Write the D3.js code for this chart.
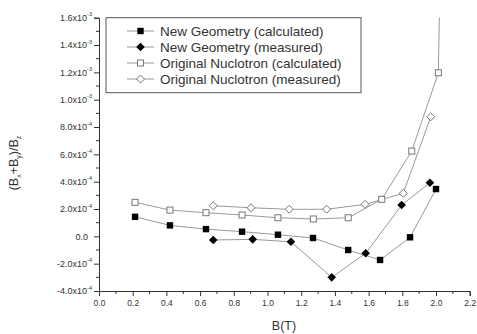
<!DOCTYPE html>
<html><head><meta charset="utf-8">
<script src="https://cdn.jsdelivr.net/npm/d3@7"></script>
<style>body{margin:0;background:#fff}svg{display:block}text{font-family:"Liberation Sans",Arial,sans-serif}</style>
</head><body>
<script>
const seriesNames = ["New Geometry (calculated)","New Geometry (measured)","Original Nuclotron (calculated)","Original Nuclotron (measured)"];
const newCalcX = [0.214,0.421,0.635,0.849,1.062,1.270,1.479,1.668,1.846,2.0];
const newCalcY = [1.43e-4,0.80e-4,0.53e-4,0.34e-4,0.12e-4,-0.12e-4,-1.00e-4,-1.73e-4,-0.07e-4,3.46e-4];
const newMeasX = [0.678,0.912,1.139,1.381,1.583,1.796,1.964];
const newMeasY = [-0.27e-4,-0.22e-4,-0.40e-4,-3.00e-4,-1.24e-4,2.29e-4,3.92e-4];
const origCalcX = [0.214,0.421,0.635,0.849,1.062,1.272,1.479,1.678,1.856,2.014,2.022];
const origCalcY = [2.49e-4,1.92e-4,1.73e-4,1.56e-4,1.36e-4,1.27e-4,1.36e-4,2.71e-4,6.24e-4,1.197e-3,1.75e-3];
const origMeasX = [0.678,0.902,1.129,1.351,1.579,1.806,1.969];
const origMeasY = [2.24e-4,2.09e-4,1.98e-4,1.98e-4,2.34e-4,3.15e-4,8.75e-4];
const xTicks = [0,0.2,0.4,0.6,0.8,1.0,1.2,1.4,1.6,1.8,2.0,2.2];
const xTickLabels = ["0.0","0.2","0.4","0.6","0.8","1.0","1.2","1.4","1.6","1.8","2.0","2.2"];
const yTicks = [1.6e-3,1.4e-3,1.2e-3,1.0e-3,8e-4,6e-4,4e-4,2e-4,0,-2e-4,-4e-4];
const yTickMant = ["1.6x10","1.4x10","1.2x10","1.0x10","8.0x10","6.0x10","4.0x10","2.0x10","0.0","-2.0x10","-4.0x10"];
const yTickExp = ["-3","-3","-3","-3","-4","-4","-4","-4","","-4","-4"];
const markers = ["fsquare","fdiamond","osquare","odiamond"];

const W=477,H=334;
const svg=d3.select("body").append("svg").attr("width",W).attr("height",H);
const x=d3.scaleLinear().domain([0,2.2]).range([99,469.7]);
const y=d3.scaleLinear().domain([-4e-4,1.6e-3]).range([291,17.7]);

svg.append("clipPath").attr("id","clip").append("rect").attr("x",99).attr("y",17.7).attr("width",372).attr("height",274);

const xAxis=d3.axisBottom(x).tickValues(xTicks).tickSize(5).tickFormat((d,i)=>xTickLabels[i]);
const gx=svg.append("g").attr("transform","translate(0,291)").call(xAxis);
gx.selectAll("text").attr("font-size",8.5).attr("fill","#333").attr("dy","0.85em");
const minorX=d3.range(0.1,2.2,0.2);
gx.selectAll(".mx").data(minorX).enter().append("line").attr("x1",d=>x(d)).attr("x2",d=>x(d)).attr("y1",0).attr("y2",3).attr("stroke","#333");

const yAxis=d3.axisLeft(y).tickValues(yTicks).tickSize(5).tickFormat("");
const gy=svg.append("g").attr("transform","translate(99,0)").call(yAxis);
const minorY=d3.range(-3e-4,1.6e-3,2e-4);
gy.selectAll(".my").data(minorY).enter().append("line").attr("y1",d=>y(d)).attr("y2",d=>y(d)).attr("x1",0).attr("x2",-3).attr("stroke","#333");
[gx,gy].forEach(g=>{g.select(".domain").attr("stroke","#333");g.selectAll(".tick line").attr("stroke","#333");});

const yl=svg.append("g");
yTicks.forEach((v,i)=>{
  const t=yl.append("text").attr("x",yTickExp[i]?92:88).attr("y",y(v)+3.2).attr("text-anchor","end").attr("font-size",9).attr("fill","#333");
  t.append("tspan").text(yTickMant[i]);
  if(yTickExp[i]) t.append("tspan").attr("font-size",5.5).attr("dy",-4.5).text(yTickExp[i]);
});

svg.append("text").attr("x",284).attr("y",330).attr("text-anchor","middle").attr("font-size",12.5).attr("fill","#333").text("B(T)");
const yt=svg.append("text").attr("transform","translate(18,163) rotate(-90)").attr("text-anchor","middle").attr("font-size",12.5).attr("fill","#333");
yt.append("tspan").text("(B");
yt.append("tspan").attr("font-size",7).attr("dy",3).text("x");
yt.append("tspan").attr("dy",-3).text("+B");
yt.append("tspan").attr("font-size",7).attr("dy",3).text("y");
yt.append("tspan").attr("dy",-3).text(")/B");
yt.append("tspan").attr("font-size",7).attr("dy",3).text("z");

function drawMarker(g,type,cx,cy){
  if(type==="fsquare") g.append("rect").attr("x",cx-3.2).attr("y",cy-3.2).attr("width",6.4).attr("height",6.4).attr("fill","#000");
  else if(type==="osquare") g.append("rect").attr("x",cx-3).attr("y",cy-3).attr("width",6).attr("height",6).attr("fill","#fff").attr("stroke","#777").attr("stroke-width",1);
  else if(type==="fdiamond") g.append("path").attr("d",`M${cx},${cy-4.3}L${cx+4.3},${cy}L${cx},${cy+4.3}L${cx-4.3},${cy}Z`).attr("fill","#000");
  else g.append("path").attr("d",`M${cx},${cy-4}L${cx+4},${cy}L${cx},${cy+4}L${cx-4},${cy}Z`).attr("fill","#fff").attr("stroke","#777").attr("stroke-width",1);
}

const plot=svg.append("g").attr("clip-path","url(#clip)");
const allSeries=[[origMeasX,origMeasY],[origCalcX,origCalcY],[newMeasX,newMeasY],[newCalcX,newCalcY]];
const order=[3,2,1,0];
const line=d3.line().x(d=>x(d[0])).y(d=>y(d[1]));
allSeries.forEach((s,k)=>{
  const pts=s[0].map((v,i)=>[v,s[1][i]]);
  plot.append("path").attr("d",line(pts)).attr("fill","none").attr("stroke","#999").attr("stroke-width",1);
});
allSeries.forEach((s,k)=>{
  const g=plot.append("g");
  s[0].forEach((v,i)=>drawMarker(g,markers[order[k]],x(v),y(s[1][i])));
});

const lg=svg.append("g");
lg.append("rect").attr("x",106).attr("y",17.7).attr("width",255).attr("height",75).attr("fill","#fff").attr("stroke","#555").attr("stroke-width",1);
const ly=[31,47,63,79];
seriesNames.forEach((n,i)=>{
  lg.append("line").attr("x1",127).attr("x2",154).attr("y1",ly[i]).attr("y2",ly[i]).attr("stroke","#999");
  drawMarker(lg,markers[i],140.5,ly[i]);
  lg.append("text").attr("x",160).attr("y",ly[i]+4.5).attr("font-size",13.5).attr("fill","#333").text(n);
});
</script>
</body></html>
